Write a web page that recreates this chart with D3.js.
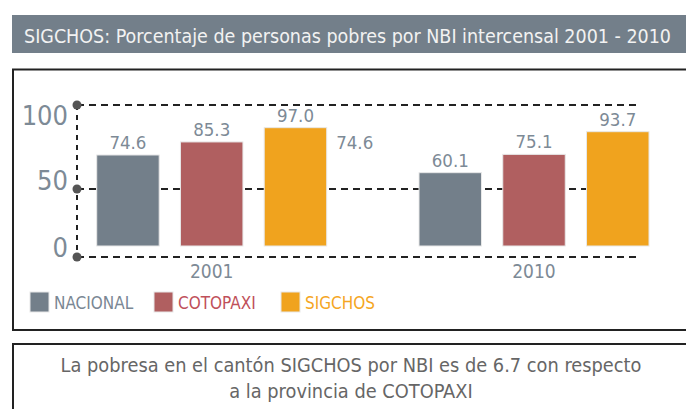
<!DOCTYPE html>
<html>
<head>
<meta charset="utf-8">
<script src="https://cdn.jsdelivr.net/npm/d3@7"></script>
<style>
  body { margin: 0; background: #fff; }
  svg { display: block; }
  text { font-family: "DejaVu Sans Condensed", "Liberation Sans Narrow", "Roboto", sans-serif; font-stretch: condensed; }
</style>
</head>
<body>
<svg></svg>
<script>
const years = ['2001', '2010'];
const series = ['NACIONAL', 'COTOPAXI', 'SIGCHOS'];
const nacional = [74.6, 60.1];
const cotopaxi = [85.3, 75.1];
const sigchos = [97.0, 93.7];
const tickValues = [0, 50, 100];
const extraLabels = [{year: '2001', value: 74.6}];
const title = 'SIGCHOS: Porcentaje de personas pobres por NBI intercensal 2001 - 2010';
const note = ['La pobresa en el cantón SIGCHOS por NBI es de 6.7 con respecto', 'a la provincia de COTOPAXI'];

const colors = {NACIONAL: '#737f8a', COTOPAXI: '#b05f60', SIGCHOS: '#f0a31e'};
const legendText = {NACIONAL: '#7a8794', COTOPAXI: '#c0505a', SIGCHOS: '#f5a623'};
const gray = '#7d8a96';

const [width, height] = [686, 409];

const data = years.map((year, i) => ({
  year,
  values: [nacional[i], cotopaxi[i], sigchos[i]].map((v, j) => ({key: series[j], value: v}))
}));

const svg = d3.select('svg')
  .attr('width', width)
  .attr('height', height)
  .attr('viewBox', [0, 0, width, height]);

// title bar
svg.append('rect')
  .attr('x', 12).attr('y', 15)
  .attr('width', width - 12).attr('height', 38)
  .attr('fill', '#737f8a');
const titleText = svg.append('text')
  .attr('x', 24).attr('y', 43)
  .attr('font-size', 20)
  .attr('fill', '#f2f2f2')
  .text(title);
// squeeze to the width used in the picture if the font runs wide
if (titleText.node().getComputedTextLength() > 647) {
  titleText.attr('textLength', 647).attr('lengthAdjust', 'spacingAndGlyphs');
}

// boxes
svg.append('rect')
  .attr('x', 13).attr('y', 69.5)
  .attr('width', 700).attr('height', 260.5)
  .attr('fill', 'none').attr('stroke', '#222').attr('stroke-width', 2);
svg.append('rect')
  .attr('x', 13).attr('y', 344)
  .attr('width', 700).attr('height', 100)
  .attr('fill', 'none').attr('stroke', '#222').attr('stroke-width', 2);

const x0 = d3.scaleBand()
  .domain(years)
  .range([96.7, 649])
  .paddingInner(0.2864);

const x1 = d3.scaleBand()
  .domain(series)
  .range([0, x0.bandwidth()])
  .paddingInner(0.254);

const y = d3.scaleLinear().domain([0, 100]).range([246, 124]);
// the grid in the picture is not drawn on the same scale as the bars
const yGrid = d3.scaleLinear().domain([0, 50, 100]).range([257, 189, 105]);
const yTick = d3.scaleLinear().domain([0, 50, 100]).range([257, 190, 125]);

const axisX = 77;

// grid lines
svg.append('g')
  .selectAll('line')
  .data(tickValues)
  .join('line')
  .attr('x1', axisX).attr('x2', 641)
  .attr('y1', d => yGrid(d)).attr('y2', d => yGrid(d))
  .attr('stroke', '#222')
  .attr('stroke-width', 2)
  .attr('stroke-dasharray', '7,5');

svg.append('line')
  .attr('x1', axisX).attr('x2', axisX)
  .attr('y1', yGrid(100)).attr('y2', yGrid(0))
  .attr('stroke', '#222')
  .attr('stroke-width', 2)
  .attr('stroke-dasharray', '5,5');

// bars
const groups = svg.append('g')
  .selectAll('g')
  .data(data)
  .join('g')
  .attr('transform', d => `translate(${x0(d.year)},0)`);

groups.selectAll('rect')
  .data(d => d.values)
  .join('rect')
  .attr('x', d => x1(d.key))
  .attr('y', d => y(d.value))
  .attr('width', x1.bandwidth())
  .attr('height', d => y(0) - y(d.value))
  .attr('fill', d => colors[d.key])
  .attr('stroke', '#e8e8e8')
  .attr('stroke-width', 1);

groups.selectAll('text.value')
  .data(d => d.values)
  .join('text')
  .classed('value', true)
  .attr('x', d => x1(d.key) + x1.bandwidth() / 2)
  .attr('y', d => y(d.value) - 6)
  .attr('text-anchor', 'middle')
  .attr('font-size', 18.5)
  .attr('fill', gray)
  .text(d => d.value.toFixed(1));

svg.append('g')
  .selectAll('text')
  .data(extraLabels)
  .join('text')
  .attr('x', d => x0(d.year) + x0.bandwidth() + 28)
  .attr('y', d => y(d.value) - 6)
  .attr('text-anchor', 'middle')
  .attr('font-size', 18.5)
  .attr('fill', gray)
  .text(d => d.value.toFixed(1));

// year labels
svg.append('g')
  .selectAll('text')
  .data(years)
  .join('text')
  .attr('x', d => x0(d) + x0.bandwidth() / 2)
  .attr('y', 278)
  .attr('text-anchor', 'middle')
  .attr('font-size', 19)
  .attr('fill', gray)
  .text(d => d);

// axis dots + labels
svg.append('g')
  .selectAll('circle')
  .data(tickValues)
  .join('circle')
  .attr('cx', axisX)
  .attr('cy', d => yGrid(d))
  .attr('r', 4.5)
  .attr('fill', '#555');

svg.append('g')
  .selectAll('text')
  .data(tickValues)
  .join('text')
  .attr('x', 68)
  .attr('y', d => yTick(d))
  .attr('text-anchor', 'end')
  .attr('font-size', 27)
  .attr('fill', gray)
  .text(d => d);

// legend
const legendX = [30, 154, 281];
const legend = svg.append('g')
  .selectAll('g')
  .data(series)
  .join('g')
  .attr('transform', (d, i) => `translate(${legendX[i]},292)`);

legend.append('rect')
  .attr('width', 19).attr('height', 20)
  .attr('fill', d => colors[d])
  .attr('stroke', '#e8e8e8');

legend.append('text')
  .attr('x', 24).attr('y', 16.5)
  .attr('font-size', 17)
  .attr('fill', d => legendText[d])
  .text(d => d);

// note
svg.append('g')
  .selectAll('text')
  .data(note)
  .join('text')
  .attr('x', 351)
  .attr('y', (d, i) => 372 + i * 26)
  .attr('text-anchor', 'middle')
  .attr('font-size', 19.8)
  .attr('fill', '#666')
  .text(d => d);
</script>
</body>
</html>
